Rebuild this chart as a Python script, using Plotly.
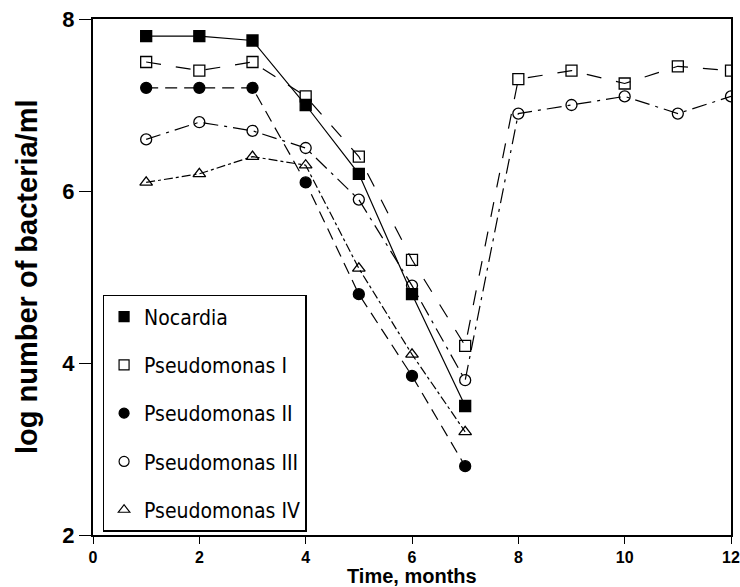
import plotly.graph_objects as go

months_a = [1, 2, 3, 4, 5, 6, 7]
months_b = [1, 2, 3, 4, 5, 6, 7, 8, 9, 10, 11, 12]

nocardia = [7.8, 7.8, 7.75, 7.0, 6.2, 4.8, 3.5]
pseudo_1 = [7.5, 7.4, 7.5, 7.1, 6.4, 5.2, 4.2, 7.3, 7.4, 7.25, 7.45, 7.4]
pseudo_2 = [7.2, 7.2, 7.2, 6.1, 4.8, 3.85, 2.8]
pseudo_3 = [6.6, 6.8, 6.7, 6.5, 5.9, 4.9, 3.8, 6.9, 7.0, 7.1, 6.9, 7.1]
pseudo_4 = [6.1, 6.2, 6.4, 6.3, 5.1, 4.1, 3.2]

names = ["Nocardia", "Pseudomonas I", "Pseudomonas II", "Pseudomonas III", "Pseudomonas IV"]
x_tick_vals = [0, 2, 4, 6, 8, 10, 12]
x_tick_text = ["0", "2", "4", "6", "8", "10", "12"]
y_tick_vals = [2, 4, 6, 8]
y_tick_text = ["2", "4", "6", "8"]

series = [
    (names[0], months_a, nocardia, "square", "solid"),
    (names[1], months_b, pseudo_1, "square-open", "longdash"),
    (names[2], months_a, pseudo_2, "circle", "12px,7px"),
    (names[3], months_b, pseudo_3, "circle-open", "longdashdot"),
    (names[4], months_a, pseudo_4, "triangle-up-open", "dashdot"),
]

fig = go.Figure()
for name, xs, ys, sym, dash in series:
    fig.add_trace(go.Scatter(
        x=xs, y=ys, mode="lines+markers", name=name, showlegend=False,
        legendgroup=name,
        line=dict(color="black", width=1.2, dash=dash),
        marker=dict(symbol=sym, size=11, color="black",
                    line=dict(color="black", width=1.3)),
    ))
for name, xs, ys, sym, dash in series:
    fig.add_trace(go.Scatter(
        x=[None], y=[None], mode="markers", name=name, showlegend=True,
        legendgroup=name,
        marker=dict(symbol=sym, size=10, color="black",
                    line=dict(color="black", width=1.2)),
    ))

bold_font = "Liberation Sans, Arial, sans-serif"

fig.update_layout(
    width=740, height=587,
    margin=dict(l=93, r=9, t=19, b=52, autoexpand=False),
    paper_bgcolor="white", plot_bgcolor="white",
    font=dict(family=bold_font, color="black"),
    legend=dict(
        x=0.015, y=0.006, xanchor="left", yanchor="bottom",
        bordercolor="black", borderwidth=1.5, bgcolor="white",
        font=dict(family="DejaVu Sans Condensed, Liberation Sans, sans-serif",
                  size=21, color="black"),
        tracegroupgap=18, traceorder="grouped",
    ),
    xaxis=dict(
        range=[0, 12], tickvals=x_tick_vals, ticktext=x_tick_text,
        ticks="outside", ticklen=7, automargin=False,
        tickwidth=1.3, tickcolor="black", showline=True, linecolor="black",
        linewidth=2, mirror=True, showgrid=False, zeroline=False,
        tickfont=dict(size=16, family=bold_font, weight=700),
    ),
    yaxis=dict(
        range=[2, 8], tickvals=y_tick_vals, ticktext=y_tick_text,
        ticks="outside", ticklen=12, automargin=False,
        tickwidth=1.3, tickcolor="black", showline=True, linecolor="black",
        linewidth=2, mirror=True, showgrid=False, zeroline=False,
        tickfont=dict(size=22, family=bold_font, weight=700),
    ),
    annotations=[
        dict(text="<b>Time, months</b>", xref="paper", yref="paper", x=0.5, y=0,
             yshift=-41, showarrow=False, yanchor="middle", xanchor="center",
             font=dict(size=20, family=bold_font)),
        dict(text="<b>log number of bacteria/ml</b>", xref="paper", yref="paper",
             x=0, xshift=-66, y=0.5, yshift=0, textangle=-90, showarrow=False,
             xanchor="center", yanchor="middle",
             font=dict(size=29, family=bold_font)),
    ],
)

fig.write_html(
    "out.html",
    config={"displayModeBar": False},
    post_script="document.body.style.margin='0';document.body.style.overflow='hidden';",
)
